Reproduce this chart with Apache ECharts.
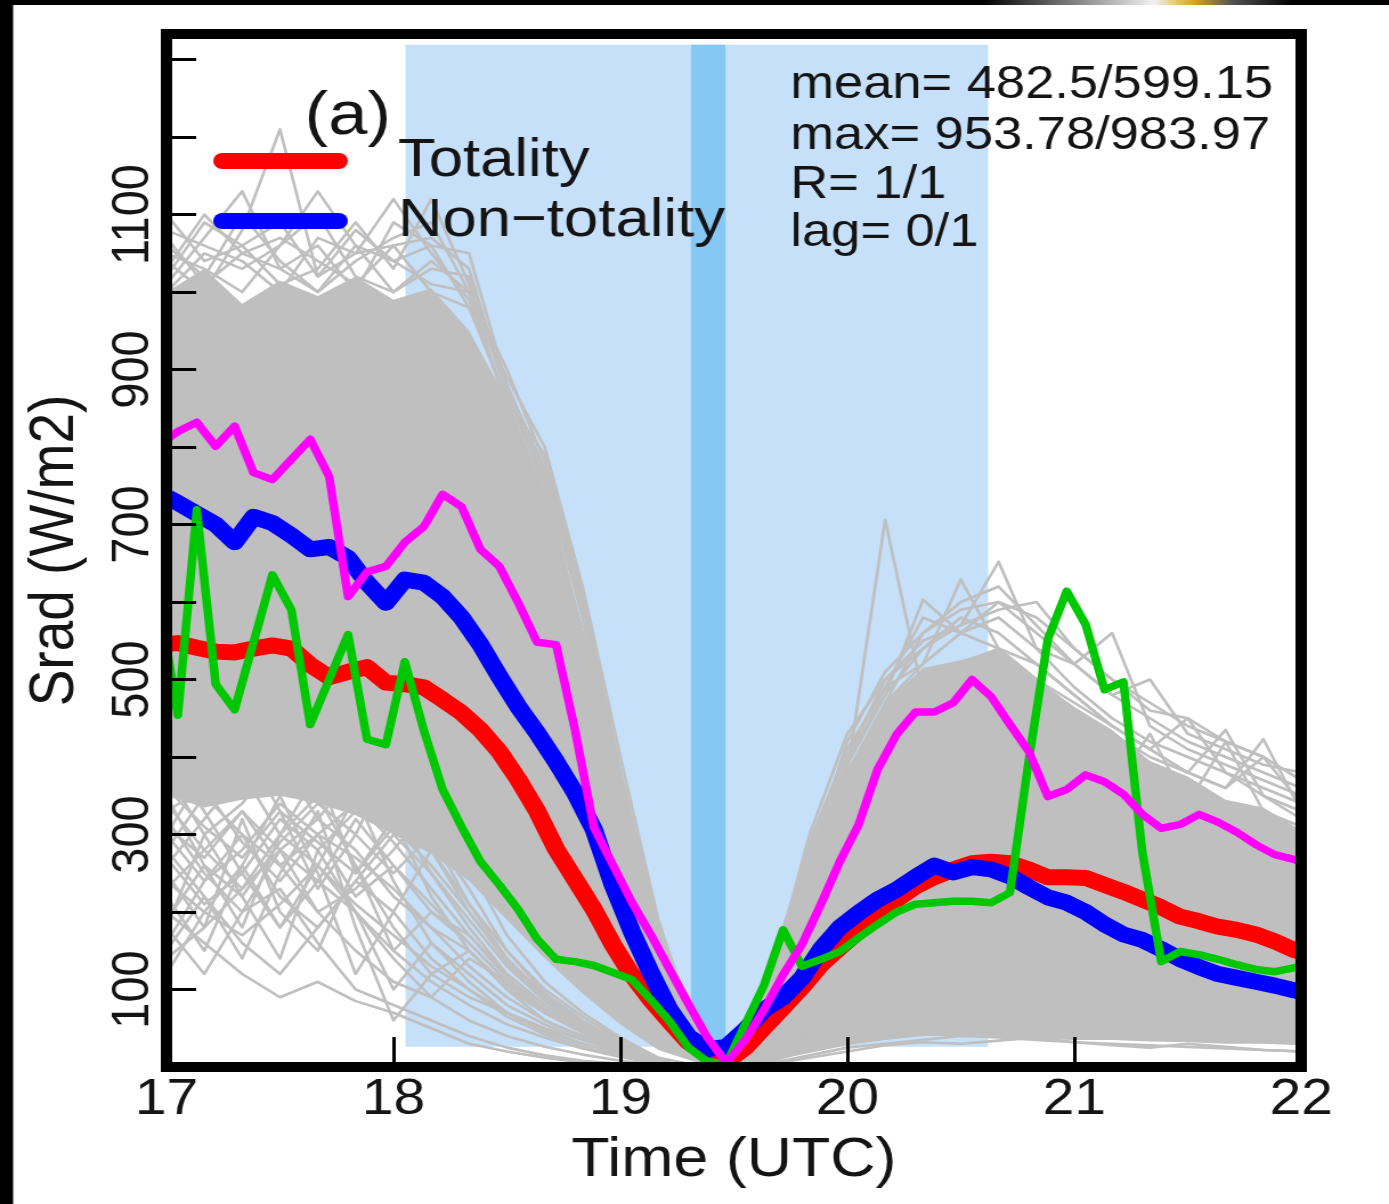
<!DOCTYPE html>
<html>
<head>
<meta charset="utf-8">
<script src="https://cdn.jsdelivr.net/npm/echarts@6/dist/echarts.min.js"></script>
<style>
  html, body { margin: 0; padding: 0; background: #fff; overflow: hidden; }
  #wrap { position: fixed; left: 0; top: 0; right: 0; bottom: 0; min-width: 1389px; min-height: 1204px; overflow: hidden; background: #fff; }
  /* the figure is laid out narrower and widened to its final aspect */
  #chart { width: 1218px; height: 1204px; transform: scaleX(1.1404); transform-origin: 0 0; }
</style>
</head>
<body>
<div id="wrap"><div id="chart"></div></div>
<script>
// ---- time grids -------------------------------------------------------
// station records: 5-minute samples, first sample at 16:58 UTC
const stationTimes = [];
for (let k = 0; k < 62; k++) stationTimes.push(16 + 58 / 60 + k * 5 / 60);
// background station traces: 10-minute samples from 17:00 to 22:00 UTC
const grayTimes = [];
for (let j = 0; j <= 30; j++) grayTimes.push(17 + j / 6);

// ---- highlighted series (W/m2) ---------------------------------------
const totality = [545, 547, 541, 536, 535, 540, 544, 540, 519, 503, 510, 516, 496, 494, 490, 474, 457, 435, 407, 371,
  330, 281, 242, 203, 158, 119, 87, 59, 32, 16, 7, 25, 51, 77, 103, 132, 154, 175, 197, 216,
  233, 245, 255, 263, 265, 263, 255, 245, 245, 244, 235, 226, 216, 206, 194, 188, 181, 177, 171, 162,
  151, 145];
const nonTotality = [741, 728, 714, 700, 677, 710, 702, 686, 668, 671, 657, 625, 599, 629, 625, 607, 580, 545, 504, 465,
  431, 394, 354, 306, 235, 175, 122, 74, 39, 23, 26, 48, 74, 90, 115, 152, 180, 199, 216, 229,
  245, 260, 251, 258, 255, 246, 232, 219, 212, 200, 184, 171, 164, 152, 139, 129, 120, 115, 110, 105,
  99, 94];
const stationMagenta = [803, 820, 832, 801, 827, 767, 758, 784, 810, 762, 607, 639, 646, 677, 697, 739, 723, 668, 646, 599,
  548, 545, 435, 309, 261, 213, 171, 126, 81, 38, 5, 35, 74, 119, 158, 210, 265, 313, 384, 429,
  458, 458, 470, 500, 478, 442, 407, 349, 358, 377, 368, 352, 326, 308, 313, 326, 316, 303, 287, 274,
  268, 261];
const stationGreen = [603, 454, 719, 494, 461, 548, 635, 590, 442, 500, 558, 423, 416, 523, 435, 358, 310, 265, 235, 203,
  165, 139, 136, 131, 122, 113, 87, 59, 25, 7, 4, 55, 106, 177, 130, 139, 149, 167, 184, 200,
  210, 212, 214, 214, 212, 225, 397, 552, 614, 571, 487, 497, 277, 136, 149, 145, 139, 132, 126, 123,
  128, 132];

// ---- background stations ---------------------------------------------
// dense core of the station cloud (lower / upper edge)
const bandLo = [350, 335, 345, 350, 340, 325, 300, 275, 240, 190, 140, 95, 55, 22, 6, 0,
  8, 18, 28, 35, 40, 40, 38, 36, 35, 35, 33, 32, 30, 30, 28];
const bandHi = [1000, 1030, 985, 1015, 995, 1020, 990, 1005, 950, 860, 740, 560, 360, 170, 50, 5,
  140, 290, 380, 470, 515, 525, 540, 500, 465, 435, 395, 375, 345, 335, 305];
// individual traces reaching above the core
const grayUpper = [
  [1040, 1000, 1080, 1210, 1020, 1050, 1060, 1000, 980, 860, 740, 560, 360, 170, 40, 0, 90, 240, 380, 706, 480, 520, 540, 500, 450, 410, 380, 350, 330, 300, 280],
  [1020, 1090, 1060, 1010, 1030, 1090, 1030, 1120, 1010, 870, 760, 600, 370, 170, 35, 0, 90, 260, 400, 480, 540, 580, 560, 520, 480, 440, 410, 380, 435, 350, 320],
  [1060, 1020, 1100, 1040, 1000, 1060, 1040, 1060, 1050, 880, 770, 580, 350, 160, 40, 0, 70, 220, 380, 470, 520, 629, 540, 500, 460, 420, 390, 360, 340, 330, 300],
  [1000, 1050, 1030, 1060, 1100, 1020, 1000, 1040, 1000, 900, 780, 600, 380, 180, 45, 0, 80, 250, 390, 480, 603, 560, 540, 520, 480, 440, 410, 380, 360, 423, 330],
  [1080, 1060, 1040, 1000, 1070, 1050, 1120, 1050, 990, 860, 790, 610, 380, 180, 40, 0, 100, 280, 400, 500, 550, 570, 652, 540, 490, 450, 420, 400, 380, 360, 340],
  [1030, 1100, 1050, 1070, 1040, 1010, 1060, 1070, 1030, 870, 750, 560, 340, 150, 35, 0, 110, 290, 410, 490, 520, 560, 580, 540, 520, 560, 440, 410, 390, 370, 350],
  [1100, 1040, 1060, 1090, 1020, 1080, 1040, 1010, 1000, 850, 720, 540, 320, 140, 30, 0, 90, 270, 420, 510, 560, 590, 600, 560, 520, 480, 450, 420, 400, 380, 360],
  [1010, 1070, 1130, 1030, 1060, 1000, 1090, 1060, 980, 890, 800, 620, 400, 190, 45, 0, 120, 300, 430, 500, 540, 570, 590, 600, 540, 500, 470, 440, 420, 400, 370],
  [1050, 1030, 1000, 1060, 1130, 1060, 1000, 1030, 1020, 870, 760, 580, 360, 170, 40, 0, 80, 230, 360, 470, 560, 600, 620, 570, 520, 480, 500, 430, 410, 390, 380],
  [1070, 1010, 1050, 1030, 1000, 1040, 1070, 1090, 1000, 880, 770, 590, 370, 180, 42, 0, 100, 260, 390, 490, 580, 560, 600, 580, 540, 500, 460, 450, 420, 400, 370]
];
// individual traces below the core
const grayLower = [
  [250, 180, 320, 200, 150, 260, 180, 120, 90, 70, 45, 30, 18, 6, 1, 0, 15, 45, 90, 130, 160, 180, 190, 170, 150, 130, 110, 90, 75, 60, 50],
  [180, 300, 220, 140, 280, 200, 100, 160, 110, 70, 50, 35, 20, 7, 1, 0, 20, 55, 100, 140, 170, 190, 200, 190, 170, 150, 130, 110, 90, 80, 70],
  [350, 260, 180, 300, 380, 250, 320, 220, 150, 100, 70, 45, 25, 8, 1, 0, 25, 70, 130, 180, 220, 240, 250, 230, 200, 170, 150, 130, 110, 95, 80],
  [300, 380, 420, 330, 230, 300, 400, 300, 210, 150, 100, 65, 35, 12, 2, 0, 30, 85, 150, 200, 250, 280, 290, 270, 240, 210, 180, 160, 140, 120, 105],
  [150, 220, 140, 250, 330, 180, 60, 120, 150, 100, 60, 40, 22, 7, 1, 0, 12, 35, 70, 100, 120, 140, 150, 140, 120, 100, 85, 70, 60, 50, 45],
  [400, 330, 250, 180, 260, 350, 240, 160, 120, 80, 55, 35, 20, 6, 1, 0, 18, 50, 95, 130, 160, 180, 185, 175, 160, 140, 120, 100, 85, 75, 65],
  [220, 150, 260, 350, 250, 120, 200, 280, 200, 140, 90, 55, 30, 10, 1, 0, 22, 60, 110, 150, 190, 210, 220, 200, 180, 160, 140, 120, 100, 85, 75],
  [280, 350, 300, 220, 180, 240, 300, 250, 180, 120, 80, 50, 28, 9, 1, 0, 20, 60, 110, 150, 185, 200, 210, 195, 175, 155, 135, 115, 95, 80, 70],
  [380, 300, 340, 400, 320, 280, 220, 180, 130, 90, 60, 38, 20, 6, 1, 0, 15, 45, 85, 120, 145, 160, 170, 160, 140, 120, 100, 85, 72, 62, 55],
  [160, 240, 300, 260, 200, 150, 110, 90, 140, 110, 70, 45, 25, 8, 1, 0, 18, 50, 90, 125, 150, 165, 175, 165, 150, 130, 110, 95, 80, 70, 60],
  [320, 250, 200, 230, 160, 100, 80, 60, 40, 25, 15, 8, 4, 1, 0, 0, 5, 15, 25, 30, 35, 40, 38, 35, 32, 30, 28, 26, 24, 22, 20],
  [200, 160, 120, 90, 110, 85, 70, 50, 30, 20, 12, 6, 3, 1, 0, 0, 4, 12, 20, 28, 32, 30, 34, 38, 32, 28, 25, 30, 26, 22, 20],
  [120, 200, 260, 180, 240, 320, 260, 200, 160, 110, 75, 48, 26, 8, 1, 0, 14, 40, 75, 110, 135, 150, 160, 150, 135, 118, 100, 85, 70, 60, 52],
  [260, 320, 380, 300, 350, 260, 150, 110, 80, 55, 38, 24, 13, 4, 1, 0, 10, 28, 55, 80, 100, 115, 120, 112, 100, 88, 75, 64, 55, 48, 42],
  [340, 280, 230, 280, 200, 230, 280, 340, 260, 170, 110, 70, 38, 12, 2, 0, 28, 75, 140, 190, 235, 260, 270, 250, 220, 195, 170, 145, 125, 108, 92],
  [180, 120, 200, 280, 320, 380, 330, 250, 190, 130, 85, 52, 28, 9, 1, 0, 20, 58, 105, 145, 180, 200, 205, 190, 170, 150, 130, 110, 92, 80, 70],
  [280, 220, 160, 120, 180, 240, 200, 140, 100, 65, 42, 26, 14, 5, 1, 0, 8, 22, 40, 55, 65, 72, 75, 70, 62, 55, 48, 42, 38, 34, 30],
  [140, 180, 230, 300, 260, 200, 150, 200, 170, 120, 80, 50, 27, 9, 1, 0, 16, 46, 85, 118, 140, 156, 165, 155, 140, 122, 105, 90, 76, 65, 57],
  [300, 240, 280, 340, 300, 220, 260, 210, 160, 110, 72, 45, 24, 8, 1, 0, 20, 55, 100, 140, 170, 185, 190, 180, 160, 140, 120, 100, 85, 72, 62],
  [230, 280, 330, 260, 300, 340, 290, 230, 170, 115, 75, 46, 25, 8, 1, 0, 18, 52, 95, 135, 165, 180, 188, 176, 158, 138, 118, 100, 84, 72, 62],
  [330, 360, 290, 240, 300, 270, 230, 180, 150, 105, 70, 44, 24, 8, 1, 0, 16, 48, 90, 128, 156, 172, 180, 170, 152, 132, 114, 96, 82, 70, 60],
  [270, 210, 250, 320, 280, 330, 350, 280, 210, 140, 92, 58, 31, 10, 1, 0, 24, 66, 120, 165, 205, 225, 235, 220, 196, 172, 150, 128, 108, 94, 82],
  [190, 260, 220, 290, 340, 300, 250, 300, 230, 150, 95, 60, 32, 10, 1, 0, 22, 62, 115, 160, 195, 215, 225, 210, 188, 165, 144, 124, 104, 90, 78],
  [360, 310, 270, 330, 290, 250, 310, 260, 200, 135, 88, 55, 30, 10, 1, 0, 20, 58, 108, 150, 182, 200, 210, 196, 176, 154, 134, 115, 97, 84, 72],
  [240, 200, 170, 210, 260, 210, 170, 130, 100, 70, 48, 30, 16, 5, 1, 0, 12, 34, 64, 92, 114, 128, 134, 126, 112, 98, 84, 72, 62, 54, 47],
  [310, 270, 330, 280, 240, 200, 140, 90, 60, 40, 26, 16, 8, 3, 0, 0, 8, 22, 42, 60, 74, 82, 86, 80, 72, 64, 56, 48, 42, 37, 33]
];
// traces riding the upper edge after the eclipse
const grayRight = [
  [700, 750, 800, 760, 820, 780, 760, 730, 680, 620, 520, 400, 240, 100, 15, 0, 80, 220, 330, 400, 440, 460, 470, 450, 420, 390, 360, 340, 420, 330, 310],
  [600, 650, 620, 700, 640, 600, 580, 520, 470, 420, 360, 280, 170, 60, 8, 0, 50, 150, 250, 320, 370, 400, 420, 430, 380, 360, 430, 340, 320, 300, 280],
  [850, 800, 880, 900, 860, 900, 880, 850, 800, 720, 600, 450, 280, 120, 20, 0, 90, 250, 360, 430, 470, 500, 520, 500, 470, 440, 410, 450, 380, 350, 330],
  [780, 820, 760, 800, 850, 820, 800, 780, 740, 680, 580, 430, 260, 110, 18, 0, 70, 200, 300, 380, 430, 470, 490, 480, 460, 430, 400, 380, 360, 400, 340]
];

// ---- shaded periods (start, end in hours UTC) ---------------------------
const shadeSpans = [[18.053, 20.62], [19.311, 19.463]];
const shadeColors = ['#c5e0f8', '#86c8f4'];
const shadeRange = [26, 1319];

// ---- axes ------------------------------------------------------------
const xTicks = [17, 18, 19, 20, 21, 22];
const yLabelValues = [100, 300, 500, 700, 900, 1100];

const statsLines = ['mean= 482.5/599.15', 'max= 953.78/983.97', 'R= 1/1', 'lag= 0/1'];

const FONT = '"Liberation Sans", Arial, Helvetica, sans-serif';
const GRAY = '#bfbfbf';
const INK = '#141414';
const GRID = { left: 146, right: 77, top: 34, bottom: 137 };
const CHART_W = 1218, CHART_H = 1204, FRAME_W = 10;

function pairs(times, vals) { return vals.map((v, i) => [times[i], v]); }

const series = [];

// shaded eclipse windows
series.push({
  type: 'custom', silent: true, clip: true, z: 1,
  data: shadeSpans.map(s => [s[0], shadeRange[0], s[1], shadeRange[1]]),
  renderItem: function (params, api) {
    const p0 = api.coord([api.value(0), api.value(3)]);
    const p1 = api.coord([api.value(2), api.value(1)]);
    return {
      type: 'rect',
      shape: { x: p0[0], y: p0[1], width: p1[0] - p0[0], height: p1[1] - p0[1] },
      style: { fill: shadeColors[params.dataIndex] }
    };
  }
});

// dense core of the station cloud
series.push({
  type: 'custom', silent: true, clip: true, z: 2,
  data: [[17, 0]],
  renderItem: function (params, api) {
    const pts = [];
    for (let j = 0; j < grayTimes.length; j++) pts.push(api.coord([grayTimes[j], bandHi[j]]));
    for (let j = grayTimes.length - 1; j >= 0; j--) pts.push(api.coord([grayTimes[j], bandLo[j]]));
    return { type: 'polygon', shape: { points: pts }, style: { fill: GRAY } };
  }
});

[].concat(grayLower, grayRight, grayUpper).forEach(function (vals) {
  series.push({
    type: 'line', silent: true, z: 2, showSymbol: false, symbol: 'none',
    data: pairs(grayTimes, vals),
    lineStyle: { color: GRAY, width: 2.6, join: 'round' },
    emphasis: { disabled: true }
  });
});

function station(name, vals, color, width) {
  return {
    name: name, type: 'line', z: 3, showSymbol: false, symbol: 'none',
    data: pairs(stationTimes, vals),
    color: color,
    itemStyle: { color: color },
    lineStyle: { color: color, width: width, cap: 'round', join: 'round' },
    emphasis: { disabled: true }
  };
}
series.push(station('Totality', totality, '#ff0000', 16));
series.push(station('Non\u2212totality', nonTotality, '#0000ff', 16));
series.push(station('green station', stationGreen, '#00c800', 7.5));
series.push(station('magenta station', stationMagenta, '#ff00ff', 7.5));

// thin white margins just outside the frame keep thick strokes from showing past it
const plotH = CHART_H - GRID.top - GRID.bottom;
const masks = [
  { x: GRID.left - FRAME_W / 2 - 6, w: 6 },
  { x: CHART_W - GRID.right + FRAME_W / 2, w: 8 }
].map(m => ({ type: 'rect', left: m.x, top: GRID.top, z: 40, silent: true,
  shape: { width: m.w, height: plotH }, style: { fill: '#fff' } }));

const chart = echarts.init(document.getElementById('chart'), null, { renderer: 'canvas' });
chart.setOption({
  animation: false,
  backgroundColor: '#ffffff',
  textStyle: { fontFamily: FONT },
  grid: Object.assign({ show: true, borderColor: '#000', borderWidth: FRAME_W, backgroundColor: '#fff' }, GRID),
  legend: {
    data: ['Totality', 'Non\u2212totality'],
    orient: 'vertical', left: 182, top: 126,
    itemWidth: 118, itemHeight: 16, itemGap: 0,
    icon: 'path://M8,0 L110,0 A8,8 0 0 1 110,16 L8,16 A8,8 0 0 1 8,0 Z',
    selectedMode: false,
    textStyle: { fontFamily: FONT, fontSize: 54, color: INK, lineHeight: 60, padding: [0, 0, 0, 39] }
  },
  xAxis: [{
    type: 'value', min: 17, max: 22, interval: 1, position: 'bottom', z: 10,
    axisLine: { show: true, onZero: false, lineStyle: { color: '#000', width: FRAME_W } },
    axisTick: { show: true, inside: true, length: 30, lineStyle: { color: '#000', width: 3 } },
    axisLabel: { fontFamily: FONT, fontSize: 50, color: INK, margin: 8,
      formatter: v => xTicks.indexOf(v) >= 0 ? String(v) : '' },
    splitLine: { show: false },
    name: 'Time (UTC)', nameLocation: 'middle', nameGap: 66,
    nameTextStyle: { fontFamily: FONT, fontSize: 55, color: INK }
  }, {
    type: 'value', min: 17, max: 22, position: 'top', z: 10,
    axisLine: { show: true, onZero: false, lineStyle: { color: '#000', width: FRAME_W } },
    axisTick: { show: false }, axisLabel: { show: false }, splitLine: { show: false }
  }],
  yAxis: [{
    type: 'value', min: 0, max: 1333, interval: 100, position: 'left', z: 10,
    axisLine: { show: true, onZero: false, lineStyle: { color: '#000', width: FRAME_W } },
    axisTick: { show: true, inside: true, length: 26, lineStyle: { color: '#000', width: 3 } },
    axisLabel: { fontFamily: FONT, fontSize: 47, color: INK, rotate: 90, margin: 5,
      formatter: v => yLabelValues.indexOf(v) >= 0 ? String(v) : '' },
    splitLine: { show: false },
    name: 'Srad (W/m2)', nameLocation: 'middle', nameGap: 70, nameRotate: 90,
    nameTextStyle: { fontFamily: FONT, fontSize: 55, color: INK }
  }, {
    type: 'value', min: 0, max: 1333, position: 'right', z: 10,
    axisLine: { show: true, onZero: false, lineStyle: { color: '#000', width: FRAME_W } },
    axisTick: { show: false }, axisLabel: { show: false }, splitLine: { show: false }
  }],
  graphic: [
    { type: 'rect', left: 0, top: 0, z: 100, silent: true, shape: { width: 11.5, height: CHART_H }, style: { fill: '#000' } },
    { type: 'rect', left: 0, top: 0, z: 100, silent: true, shape: { width: CHART_W, height: 5 }, style: { fill: '#000' } },
    { type: 'rect', left: 862, top: 0, z: 101, silent: true, shape: { width: 272, height: 5 },
      style: { fill: new echarts.graphic.LinearGradient(0, 0, 1, 0, [
        { offset: 0, color: '#000' }, { offset: 0.35, color: '#9a9a9a' }, { offset: 0.55, color: '#f2f2f2' },
        { offset: 0.68, color: '#d9a520' }, { offset: 0.8, color: '#555' }, { offset: 1, color: '#000' }]) } },
    { type: 'text', left: 267, top: 86, z: 50, silent: true,
      style: { text: '(a)', font: '62px ' + FONT, fill: INK } }
  ].concat(masks).concat(statsLines.map((t, i) => ({
    type: 'text', left: 693, top: [62, 113, 162, 210][i], z: 50, silent: true,
    style: { text: t, font: '46px ' + FONT, fill: INK }
  }))),
  series: series
});
</script>
</body>
</html>
